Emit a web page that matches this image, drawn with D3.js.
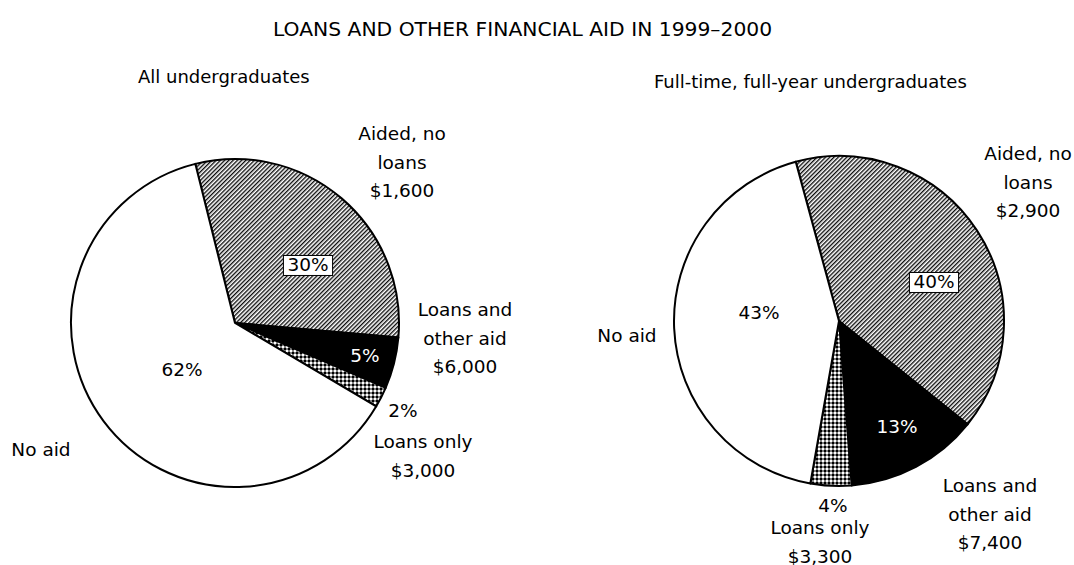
<!DOCTYPE html>
<html>
<head>
<meta charset="utf-8">
<script src="https://cdn.jsdelivr.net/npm/d3@7"></script>
<style>
  body { margin: 0; background: #fff; }
  svg { display: block; }
  text { font-family: "DejaVu Sans", sans-serif; fill: #000; }
</style>
</head>
<body>
<div id="chart"></div>
<script>
const title = "LOANS AND OTHER FINANCIAL AID IN 1999\u20132000";
const categories = ["Aided, no loans", "Loans and other aid", "Loans only", "No aid"];
const fills = ["url(#hatch)", "#000", "url(#dots)", "#fff"];

const allTitle = "All undergraduates";
const allShares = [30, 5, 2, 62];
const allAmounts = ["$1,600", "$6,000", "$3,000", ""];

const fullTitle = "Full-time, full-year undergraduates";
const fullShares = [40, 13, 4, 43];
const fullAmounts = ["$2,900", "$7,400", "$3,300", ""];

const width = 1074;
const height = 565;

const svg = d3
  .select("#chart")
  .append("svg")
  .attr("width", width)
  .attr("height", height);

const defs = svg.append("defs");

defs
  .append("pattern")
  .attr("id", "hatch")
  .attr("patternUnits", "userSpaceOnUse")
  .attr("width", 3)
  .attr("height", 3)
  .attr("patternTransform", "rotate(45)")
  .call(p => p.append("rect").attr("width", 3).attr("height", 3).attr("fill", "#fff"))
  .append("line")
  .attr("x1", 0.7)
  .attr("y1", 0)
  .attr("x2", 0.7)
  .attr("y2", 3)
  .attr("stroke", "#000")
  .attr("stroke-width", 1.3);

defs
  .append("pattern")
  .attr("id", "dots")
  .attr("patternUnits", "userSpaceOnUse")
  .attr("width", 4)
  .attr("height", 4)
  .call(p => p.append("rect").attr("width", 4).attr("height", 4).attr("fill", "#fff"))
  .append("path")
  .attr("d", "M2,0 L4,2 L2,4 L0,2 Z")
  .attr("fill", "#000");

svg
  .append("text")
  .attr("x", 273)
  .attr("y", 36)
  .style("font-size", "20.3px")
  .text(title);

// layout of each pie: centre, radius, start angle and where its labels sit
const pies = [
  {
    name: allTitle,
    shares: allShares,
    amounts: allAmounts,
    cx: 235,
    cy: 323,
    r: 164,
    start: -14,
    titleX: 138,
    titleY: 83,
    pct: [[308, 265, true], [365, 356, false], [403, 411, false], [182, 370, false]],
    names: [[402, 140], [465, 316], [423, 448], [41, 456]]
  },
  {
    name: fullTitle,
    shares: fullShares,
    amounts: fullAmounts,
    cx: 839,
    cy: 321,
    r: 165,
    start: -15.2,
    titleX: 654,
    titleY: 88,
    pct: [[934, 282, true], [897, 427, false], [833, 506, false], [759, 313, false]],
    names: [[1028, 160], [990, 492], [820, 534], [627, 342]]
  }
];

// split the category names the way the chart wraps them
const nameLines = [["Aided, no", "loans"], ["Loans and", "other aid"], ["Loans only"], ["No aid"]];

pies.forEach(cfg => {
  const g = svg.append("g");

  g.append("text")
    .attr("x", cfg.titleX)
    .attr("y", cfg.titleY)
    .style("font-size", "18px")
    .text(cfg.name);

  const start = (cfg.start * Math.PI) / 180;
  const pie = d3
    .pie()
    .sort(null)
    .startAngle(start)
    .endAngle(start + 2 * Math.PI);
  const arc = d3.arc().innerRadius(0).outerRadius(cfg.r);

  g.append("g")
    .attr("transform", `translate(${cfg.cx},${cfg.cy})`)
    .selectAll("path")
    .data(pie(cfg.shares))
    .enter()
    .append("path")
    .attr("d", arc)
    .attr("fill", (d, i) => fills[i])
    .attr("stroke", "#000")
    .attr("stroke-width", 2)
    .attr("stroke-linejoin", "round");

  cfg.shares.forEach((v, i) => {
    const [x, y, boxed] = cfg.pct[i];
    const t = g
      .append("text")
      .attr("x", x)
      .attr("y", y)
      .attr("dy", "0.35em")
      .attr("text-anchor", "middle")
      .style("font-size", "18.5px")
      .style("fill", i === 1 ? "#fff" : "#000")
      .text(v + "%");
    if (boxed) {
      const b = t.node().getBBox();
      g.insert("rect", "text:last-child")
        .attr("x", b.x - 4)
        .attr("y", b.y + 1)
        .attr("width", b.width + 8)
        .attr("height", b.height - 1)
        .attr("fill", "#fff")
        .attr("stroke", "#000")
        .attr("stroke-width", 1);
    }
  });

  cfg.names.forEach(([x, y], i) => {
    const lines = nameLines[i].concat(cfg.amounts[i] ? [cfg.amounts[i]] : []);
    const t = g
      .append("text")
      .attr("text-anchor", "middle")
      .style("font-size", "18.5px");
    lines.forEach((s, k) => {
      t.append("tspan").attr("x", x).attr("y", y + k * 28.5).text(s);
    });
  });
});
</script>
</body>
</html>
